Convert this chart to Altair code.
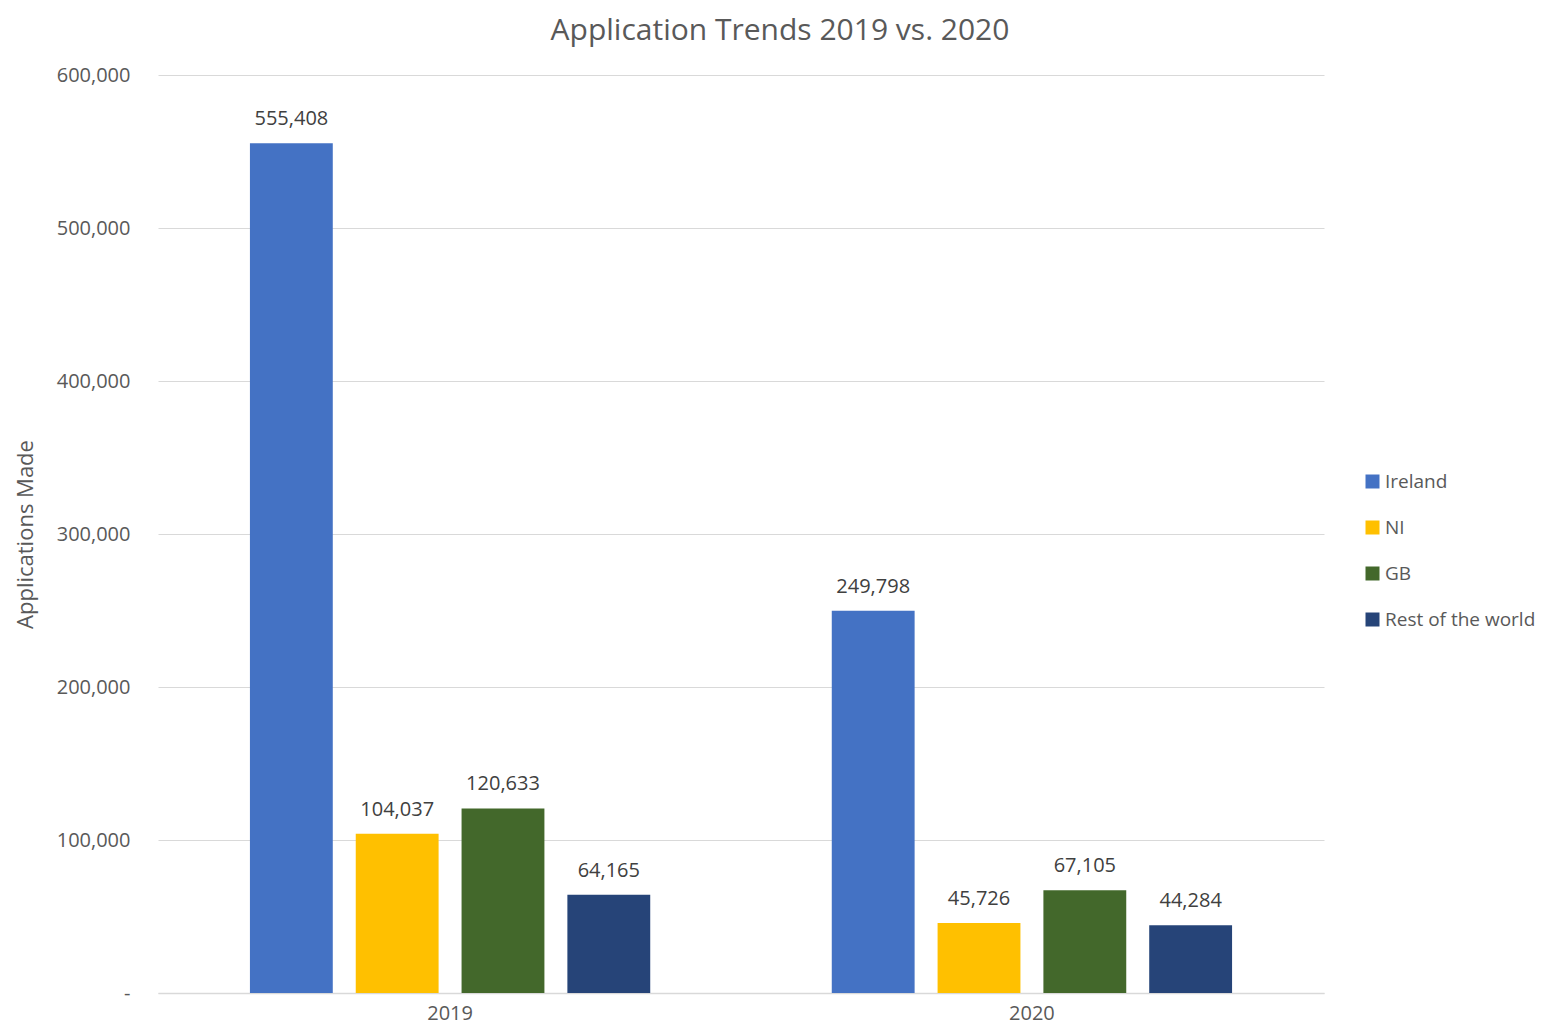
import altair as alt
import pandas as pd

years = ["2019", "2020"]
regions = ["Ireland", "NI", "GB", "Rest of the world"]
colors = ["#4472C4", "#FFC000", "#43682B", "#264478"]
values_2019 = [555408, 104037, 120633, 64165]
values_2020 = [249798, 45726, 67105, 44284]

rows = []
for y, vals in zip(years, [values_2019, values_2020]):
    for r, v in zip(regions, vals):
        rows.append({"Year": y, "Region": r, "Value": v})
df = pd.DataFrame(rows)

FONT = "Open Sans"

base = alt.Chart(df).encode(
    x=alt.X("Year:N", sort=years,
            scale=alt.Scale(paddingInner=0.312, paddingOuter=0.158),
            axis=alt.Axis(title=None, labelAngle=0, ticks=False, labelPadding=10,
                          labelFontSize=20, labelColor="#595959", labelFont=FONT,
                          domainColor="#D9D9D9", domainWidth=1.5, grid=False)),
    xOffset=alt.XOffset("Region:N", sort=regions,
                        scale=alt.Scale(paddingInner=0.217, paddingOuter=0)),
)

bars = base.mark_bar().encode(
    y=alt.Y("Value:Q", scale=alt.Scale(domain=[0, 600000]),
            axis=alt.Axis(title="Applications Made", values=[0, 100000, 200000, 300000, 400000, 500000, 600000],
                          labelExpr="datum.value == 0 ? '-' : format(datum.value, ',')",
                          ticks=False, domain=False, labelPadding=28,
                          labelFontSize=20, labelColor="#595959", labelFont=FONT,
                          titleFontSize=22, titleColor="#595959", titleFont=FONT,
                          titleFontWeight="normal", titleX=-133, titleY=459,
                          titleBaseline="middle", titleAlign="center",
                          gridColor="#D9D9D9", gridWidth=1.2)),
    color=alt.Color("Region:N", sort=regions,
                    scale=alt.Scale(domain=regions, range=colors),
                    legend=alt.Legend(title=None, orient="none", legendX=1205, legendY=397,
                                      symbolType="square", symbolSize=196, symbolStrokeWidth=0,
                                      labelFontSize=19, labelColor="#595959", labelFont=FONT,
                                      rowPadding=26, labelOffset=3, labelLimit=300)),
)

labels = base.mark_text(dy=-14, fontSize=20, color="#404040", font=FONT, baseline="bottom").encode(
    y="Value:Q",
    text=alt.Text("Value:Q", format=","),
)

chart = (bars + labels).properties(
    width=1166, height=918,
    autosize=alt.AutoSizeParams(type="none"),
    padding={"left": 150, "top": 67, "right": 222, "bottom": 31},
    title=alt.TitleParams("Application Trends 2019 vs. 2020", fontSize=30, font=FONT,
                          fontWeight="normal", color="#595959", offset=19, dx=39),
).configure_view(stroke=None)

chart.save("out.html", embed_options={"renderer": "svg", "actions": False})
